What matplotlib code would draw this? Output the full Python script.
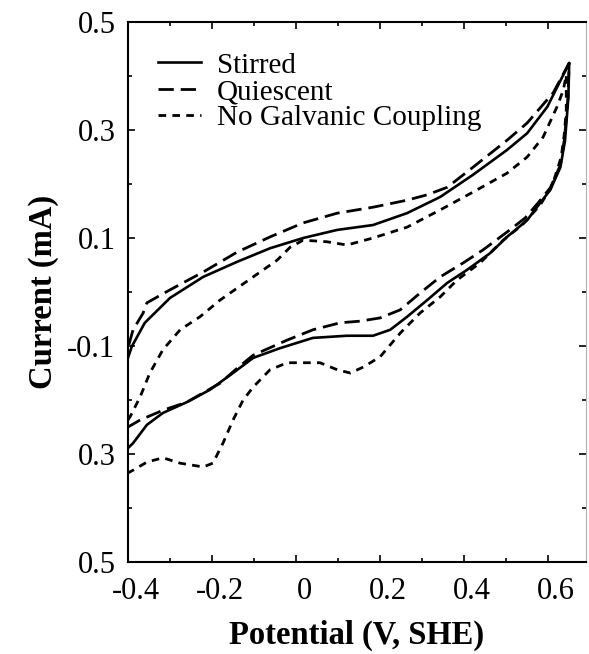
import matplotlib
matplotlib.use("Agg")
import matplotlib.pyplot as plt
from matplotlib.ticker import MultipleLocator
from matplotlib.transforms import ScaledTranslation

# cyclic voltammograms: anodic sweep (-0.4 -> 0.65 V), then cathodic sweep back
stirred_v = [-0.400, -0.391, -0.360, -0.300, -0.221, -0.140, -0.062, 0.017, 0.098, 0.183,
             0.264, 0.343, 0.421, 0.502, 0.550, 0.598, 0.650,
             0.648, 0.640, 0.629, 0.605, 0.581, 0.550, 0.502, 0.462, 0.407, 0.360, 0.312,
             0.264, 0.224, 0.183, 0.121, 0.040, -0.038, -0.102, -0.157, -0.205, -0.260,
             -0.317, -0.355, -0.388, -0.400]
stirred_i = [-0.122, -0.101, -0.057, -0.011, 0.028, 0.056, 0.081, 0.100, 0.115, 0.124,
             0.146, 0.176, 0.217, 0.263, 0.294, 0.343, 0.424,
             0.360, 0.280, 0.231, 0.189, 0.165, 0.133, 0.102, 0.072, 0.041, 0.017, -0.015,
             -0.046, -0.070, -0.081, -0.081, -0.085, -0.104, -0.122, -0.154, -0.181, -0.204,
             -0.224, -0.246, -0.280, -0.289]

quiescent_v = [-0.398, -0.388, -0.364, -0.355, -0.300, -0.221, -0.140, -0.062, 0.017, 0.098,
               0.183, 0.264, 0.312, 0.360, 0.421, 0.502, 0.550, 0.612, 0.650,
               0.647, 0.639, 0.629, 0.605, 0.576, 0.545, 0.502, 0.445, 0.398, 0.343, 0.295,
               0.248, 0.200, 0.152, 0.105, 0.040, -0.021, -0.102, -0.140, -0.181, -0.260,
               -0.317, -0.371, -0.400]
quiescent_i = [-0.098, -0.070, -0.039, -0.020, 0.004, 0.037, 0.074, 0.102, 0.128, 0.146,
               0.157, 0.170, 0.180, 0.194, 0.231, 0.281, 0.313, 0.369, 0.424,
               0.360, 0.285, 0.235, 0.193, 0.165, 0.137, 0.111, 0.078, 0.054, 0.028, -0.002,
               -0.033, -0.048, -0.054, -0.057, -0.070, -0.089, -0.117, -0.141, -0.169, -0.204,
               -0.219, -0.237, -0.250]

nogc_v = [-0.400, -0.395, -0.371, -0.348, -0.317, -0.276, -0.229, -0.181, -0.102, -0.045,
          -0.014, 0.017, 0.074, 0.121, 0.183, 0.264, 0.343, 0.421, 0.502, 0.550, 0.588,
          0.621, 0.636, 0.643,
          0.643, 0.638, 0.631, 0.610, 0.581, 0.538, 0.493, 0.438, 0.383, 0.343, 0.295, 0.248,
          0.200, 0.160, 0.129, 0.098, 0.057, 0.017, -0.021, -0.062, -0.102, -0.126, -0.150,
          -0.174, -0.198, -0.221, -0.276, -0.317, -0.355, -0.388, -0.400]
nogc_i = [-0.237, -0.231, -0.194, -0.150, -0.107, -0.070, -0.046, -0.015, 0.028, 0.059,
          0.083, 0.096, 0.093, 0.087, 0.100, 0.120, 0.152, 0.185, 0.220, 0.250, 0.287,
          0.343, 0.374, 0.402,
          0.337, 0.290, 0.250, 0.198, 0.161, 0.124, 0.096, 0.054, 0.022, -0.009, -0.039,
          -0.076, -0.120, -0.139, -0.150, -0.144, -0.131, -0.131, -0.131, -0.144, -0.176,
          -0.200, -0.237, -0.280, -0.317, -0.324, -0.317, -0.307, -0.315, -0.330, -0.335]

x_ticks = [-0.4, -0.2, 0, 0.2, 0.4, 0.6]
x_tick_labels = ["-0.4", "-0.2", "0", "0.2", "0.4", "0.6"]
y_ticks = [0.5, 0.3, 0.1, -0.1, -0.3, -0.5]
y_tick_labels = ["0.5", "0.3", "0.1", "-0.1", "0.3", "0.5"]  # as printed on the scan

plt.rcParams["font.family"] = ["Liberation Serif", "DejaVu Serif"]
plt.rcParams["lines.scale_dashes"] = False

fig = plt.figure(figsize=(5.89, 6.54), dpi=100)
ax = fig.add_axes([128 / 589, 1 - 562 / 654, (586 - 128) / 589, 540 / 654])

ax.plot(stirred_v, stirred_i, color="black", lw=1.9, ls="-", label="Stirred")
ax.plot(quiescent_v, quiescent_i, color="black", lw=2.0, ls=(0, (11, 5)), label="Quiescent")
ax.plot(nogc_v, nogc_i, color="black", lw=2.0, ls=(0, (5.5, 4.5)), label="No Galvanic Coupling")

ax.set_xlim(-0.4, 0.69)
ax.set_ylim(-0.5, 0.5)
ax.set_xticks(x_ticks, x_tick_labels)
ax.set_yticks(y_ticks, y_tick_labels)
ax.xaxis.set_minor_locator(MultipleLocator(0.1))
ax.yaxis.set_minor_locator(MultipleLocator(0.1))
ax.tick_params(which="both", direction="in", top=True, right=True, labelsize=22,
               width=1.2)
ax.tick_params(axis="x", pad=11)
ax.tick_params(axis="y", pad=9)
ax.tick_params(which="major", length=5)
ax.tick_params(which="minor", length=3)

for side in ["left", "bottom", "top"]:
    ax.spines[side].set_linewidth(1.5)
ax.spines["right"].set_linewidth(0.8)
ax.spines["right"].set_color("#b0b0b0")

# scanned x labels sit a little right of their ticks
shift = ScaledTranslation(8 / 100, 0, fig.dpi_scale_trans)
for lab in ax.get_xticklabels():
    lab.set_transform(lab.get_transform() + shift)

ax.set_xlabel("Potential (V, SHE)", fontsize=23.5, fontweight="bold", labelpad=10)
ax.set_ylabel("Current (mA)", fontsize=23.5, fontweight="bold", labelpad=6)

ax.legend(loc="upper left", bbox_to_anchor=(0.066, 0.944), frameon=False, fontsize=21,
          handlelength=1.45, handletextpad=0.55, labelspacing=0.0, borderpad=0,
          borderaxespad=0)

fig.savefig("out.png", dpi=100)
